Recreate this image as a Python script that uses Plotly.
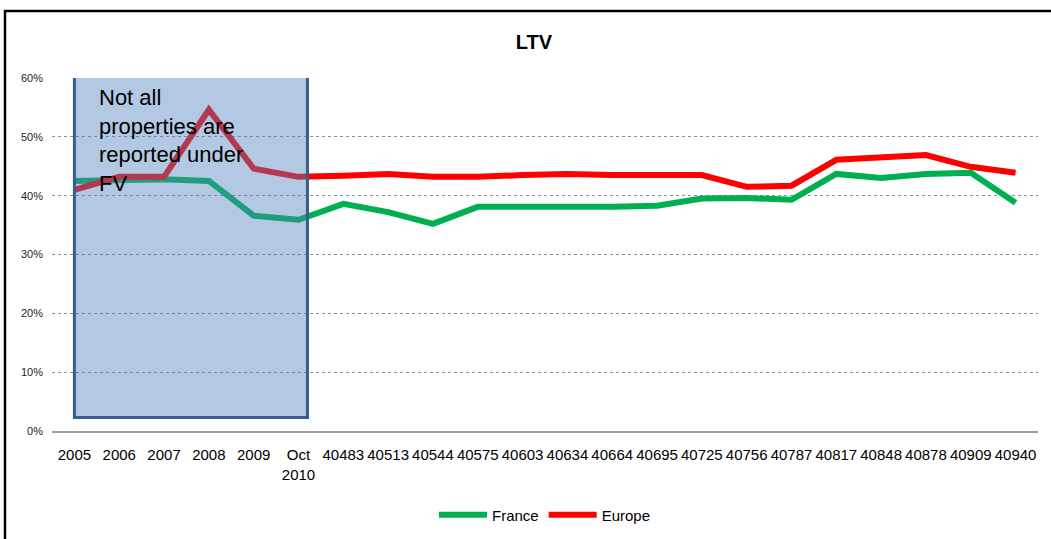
import plotly.graph_objects as go

categories = ["2005", "2006", "2007", "2008", "2009", "Oct<br>2010",
              "40483", "40513", "40544", "40575", "40603", "40634", "40664", "40695",
              "40725", "40756", "40787", "40817", "40848", "40878", "40909", "40940"]
france = [0.425, 0.427, 0.428, 0.425, 0.366, 0.359, 0.386, 0.372, 0.352, 0.381, 0.381, 0.379,
          0.381, 0.383, 0.395, 0.396, 0.393, 0.437, 0.430, 0.437, 0.439, 0.388]
europe = [0.410, 0.432, 0.432, 0.546, 0.446, 0.432, 0.434, 0.437, 0.432, 0.432, 0.435, 0.437,
          0.435, 0.434, 0.435, 0.415, 0.417, 0.461, 0.464, 0.469, 0.449, 0.439]
y_ticks = [0, 0.1, 0.2, 0.3, 0.4, 0.5, 0.6]
note_text = "Not all<br>properties are<br>reported under<br>FV"

x_idx = list(range(len(categories)))

fig = go.Figure()
fig.add_trace(go.Scatter(x=x_idx, y=france, mode="lines", name="France",
                         line=dict(color="#00B050", width=6)))
fig.add_trace(go.Scatter(x=x_idx, y=europe, mode="lines", name="Europe",
                         line=dict(color="#FF0000", width=6)))

# Highlight box over the early period
fig.add_shape(type="rect", xref="x", yref="y", x0=0.0, x1=5.2, y0=0.023, y1=0.618,
              fillcolor="rgba(79,129,189,0.43)", line=dict(color="#385D8A", width=3),
              layer="above")
fig.add_annotation(text=note_text, xref="paper", yref="paper",
                   x=(97 - 52) / 986, y=(431 - 83) / 353, xanchor="left", yanchor="top",
                   align="left", showarrow=False,
                   font=dict(family="Liberation Sans", size=22, color="black"))

# Outer chart frame
fig.add_shape(type="rect", xref="paper", yref="paper",
              x0=(5 - 52) / 986, x1=1.2, y0=-0.5, y1=(431 - 11) / 353,
              line=dict(color="black", width=2.5), fillcolor="rgba(0,0,0,0)", layer="above")

fig.update_layout(
    width=1051, height=539,
    margin=dict(l=52, r=13, t=78, b=108, autoexpand=False),
    paper_bgcolor="white", plot_bgcolor="white",
    title=dict(text="<b>LTV</b>", x=534 / 1051, xanchor="center", y=1 - 42 / 539, yanchor="middle",
               font=dict(family="Liberation Sans", size=20, color="black")),
    legend=dict(orientation="h", x=0.5, xanchor="center", y=(431 - 515) / 353, yanchor="middle",
                font=dict(family="Liberation Sans", size=15, color="black"),
                itemwidth=48, tracegroupgap=0),
    showlegend=True,
)
fig.update_xaxes(
    tickmode="array", tickvals=x_idx, ticktext=categories, range=[-0.5, len(categories) - 0.5],
    tickangle=0, showgrid=False, showline=True, linecolor="#A0A0A0", linewidth=2,
    ticks="", ticklabelstandoff=9, tickfont=dict(family="Liberation Sans", size=15, color="black"),
    zeroline=False, fixedrange=True,
)
fig.update_yaxes(
    range=[0, 0.6], tickvals=y_ticks, tickformat=".0%",
    showgrid=True, gridcolor="#909090", griddash="dot", gridwidth=1,
    zeroline=False, showline=False, ticks="", ticklabelstandoff=8,
    tickfont=dict(family="Liberation Sans", size=11, color="#222"),
)

fig.write_html("out.html", config={"displayModeBar": False},
               post_script="document.body.style.margin='0px';document.body.style.overflow='hidden';")
